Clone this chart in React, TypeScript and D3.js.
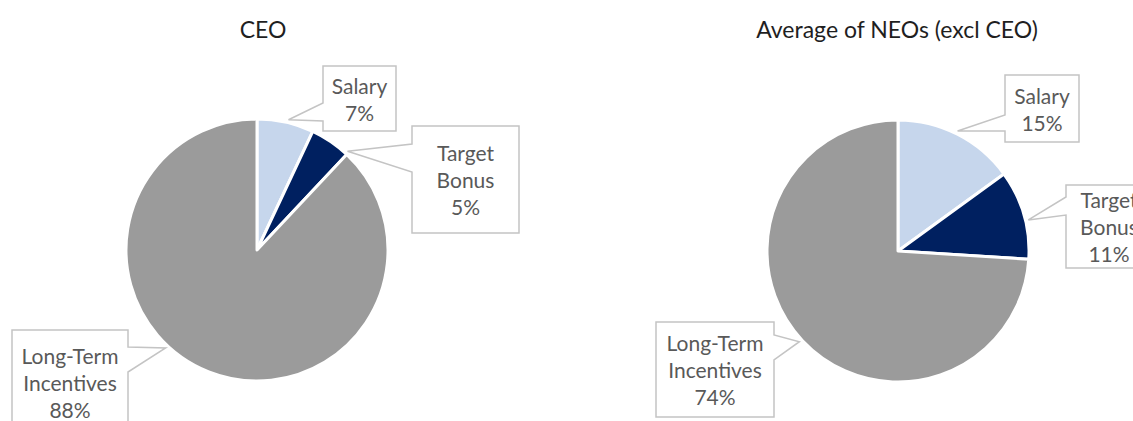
import React from 'react';
import * as d3 from 'd3';

// ---- data ----
const categories = ['Salary', 'Target Bonus', 'Long-Term Incentives'];
const ceoValues = [7, 5, 88];
const neoValues = [15, 11, 74];
const chartTitles = ['CEO', 'Average of NEOs (excl CEO)'];
const labelLines = [['Salary'], ['Target', 'Bonus'], ['Long-Term', 'Incentives']];

const sliceColors = ['#C6D6EC', '#002060', '#9B9B9B'];

type Box = { x: number; y: number; w: number; h: number; tipAngle: number; side: 'left' | 'right'; b0: number; b1: number };

const layouts: { cx: number; cy: number; titleX: number; boxes: Box[] }[] = [
  {
    cx: 257, cy: 250, titleX: 263,
    boxes: [
      { x: 323, y: 66, w: 73, h: 65, tipAngle: 13.6, side: 'left', b0: 103, b1: 121 },
      { x: 412, y: 126, w: 107, h: 107, tipAngle: 42.5, side: 'left', b0: 144, b1: 172 },
      { x: 12, y: 330, w: 116, h: 104, tipAngle: 223, side: 'right', b0: 347, b1: 372 },
    ],
  },
  {
    cx: 898, cy: 251, titleX: 897,
    boxes: [
      { x: 1005, y: 75, w: 74, h: 67, tipAngle: 26.4, side: 'left', b0: 115, b1: 131 },
      { x: 1066, y: 185, w: 86, h: 83, tipAngle: 76.6, side: 'left', b0: 197, b1: 215 },
      { x: 656, y: 322, w: 118, h: 95, tipAngle: 227.4, side: 'right', b0: 335, b1: 360 },
    ],
  },
];

const R = 131;
const FONT = 'Lato, "Open Sans", sans-serif';

function calloutPath(b: Box, tip: [number, number]) {
  const { x, y, w, h, b0, b1 } = b;
  if (b.side === 'left') {
    return `M${x},${y}H${x + w}V${y + h}H${x}V${b1}L${tip[0]},${tip[1]}L${x},${b0}Z`;
  }
  return `M${x},${y}H${x + w}V${b0}L${tip[0]},${tip[1]}L${x + w},${b1}V${y + h}H${x}Z`;
}

function Pie({ values, title, layout }: { values: number[]; title: string; layout: typeof layouts[number] }) {
  const pie = d3.pie<number>().sort(null).value((d) => d);
  const arc = d3.arc<d3.PieArcDatum<number>>().innerRadius(0).outerRadius(R);
  const arcs = pie(values);
  const pct = d3.format('.0%');
  const total = d3.sum(values);
  return (
    <g>
      <text x={layout.titleX} y={38} textAnchor="middle" fontFamily={FONT} fontSize={23} fill="#1f1f1f">
        {title}
      </text>
      <g transform={`translate(${layout.cx},${layout.cy})`}>
        {arcs.map((a, i) => (
          <path key={categories[i]} d={arc(a) || ''} fill={sliceColors[i]} stroke="#ffffff" strokeWidth={3} strokeLinejoin="round" />
        ))}
      </g>
      {layout.boxes.map((b, i) => {
        const ang = (b.tipAngle * Math.PI) / 180;
        const tip: [number, number] = [layout.cx + (R + 3) * Math.sin(ang), layout.cy - (R + 3) * Math.cos(ang)];
        const lines = [...labelLines[i], pct(values[i] / total)];
        const lh = 27;
        const midY = b.y + b.h / 2 + 8.5;
        return (
          <g key={categories[i]}>
            <path d={calloutPath(b, tip)} fill="#ffffff" stroke="#C4C4C4" strokeWidth={1.5} />
            {lines.map((t, j) => (
              <text
                key={j}
                x={b.x + b.w / 2}
                y={midY + (j - (lines.length - 1) / 2) * lh}
                textAnchor="middle"
                fontFamily={FONT}
                fontSize={21}
                fill="#595959"
              >
                {t}
              </text>
            ))}
          </g>
        );
      })}
    </g>
  );
}

export default function App() {
  return (
    <svg width={1133} height={421} style={{ position: 'absolute', left: 0, top: 0, background: '#fff' }}>
      <rect width={1133} height={421} fill="#ffffff" />
      <Pie values={ceoValues} title={chartTitles[0]} layout={layouts[0]} />
      <Pie values={neoValues} title={chartTitles[1]} layout={layouts[1]} />
    </svg>
  );
}
